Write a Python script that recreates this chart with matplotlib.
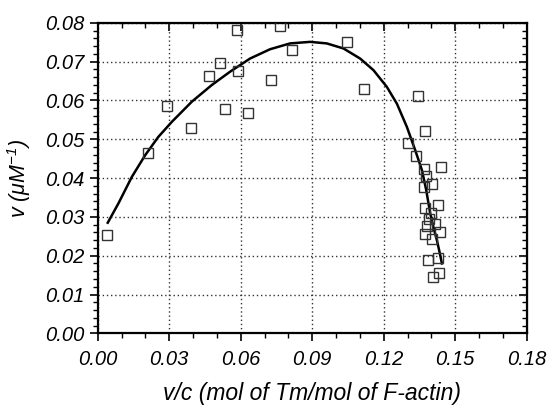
import numpy as np
import matplotlib
matplotlib.use('Agg')
import matplotlib.pyplot as plt
from matplotlib.ticker import MultipleLocator

plt.rcParams['font.family'] = ['Liberation Sans', 'DejaVu Sans']
plt.rcParams['mathtext.fontset'] = 'custom'
plt.rcParams['mathtext.rm'] = 'Liberation Sans:italic'
plt.rcParams['mathtext.it'] = 'Liberation Sans:italic'

# measured binding data (squares)
vc_data = [0.0040, 0.0212, 0.0290, 0.0393, 0.0466, 0.0512, 0.0532, 0.0584, 0.0589,
           0.0632, 0.0726, 0.0765, 0.0814, 0.1045, 0.1118, 0.1342, 0.1375, 0.1300,
           0.1336, 0.1440, 0.1367, 0.1378, 0.1402, 0.1367, 0.1429, 0.1375, 0.1398,
           0.1392, 0.1416, 0.1381, 0.1437, 0.1374, 0.1402, 0.1426, 0.1385, 0.1433,
           0.1406]
v_data = [0.0253, 0.0465, 0.0587, 0.0528, 0.0664, 0.0696, 0.0579, 0.0782, 0.0676,
          0.0567, 0.0654, 0.0792, 0.0730, 0.0750, 0.0629, 0.0611, 0.0522, 0.0490,
          0.0456, 0.0428, 0.0423, 0.0405, 0.0385, 0.0376, 0.0330, 0.0322, 0.0309,
          0.0294, 0.0281, 0.0276, 0.0262, 0.0256, 0.0242, 0.0195, 0.0188, 0.0156,
          0.0146]

# fitted curve
vc_fit = [0.0042, 0.0087, 0.0143, 0.0199, 0.0254, 0.0311, 0.0395, 0.0479, 0.0555,
          0.0639, 0.0723, 0.0807, 0.0891, 0.0961, 0.1031, 0.1101, 0.1157, 0.1213,
          0.1255, 0.1297, 0.1332, 0.1360, 0.1378, 0.1395, 0.1410, 0.1423, 0.1434,
          0.1444]
v_fit = [0.0285, 0.0335, 0.0403, 0.0459, 0.0506, 0.0545, 0.0597, 0.0640, 0.0674,
         0.0708, 0.0732, 0.0747, 0.0751, 0.0747, 0.0734, 0.0708, 0.0678, 0.0635,
         0.0592, 0.0532, 0.0472, 0.0421, 0.0370, 0.0309, 0.0270, 0.0240, 0.0210,
         0.0180]

fig = plt.figure(figsize=(5.5, 4.08), dpi=100)
ax = fig.add_axes([0.1777, 0.183, 0.78, 0.761])

ax.plot(vc_fit, v_fit, color='black', lw=1.8, zorder=3)
ax.plot(vc_data, v_data, 's', mfc='none', mec='#333333', ms=7.5, mew=1.0, zorder=4)

ax.set_xlim(0, 0.18)
ax.set_ylim(0, 0.08)
ax.xaxis.set_major_locator(MultipleLocator(0.03))
ax.xaxis.set_minor_locator(MultipleLocator(0.01))
ax.yaxis.set_major_locator(MultipleLocator(0.01))
ax.yaxis.set_minor_locator(MultipleLocator(0.002))
ax.xaxis.set_major_formatter(plt.FuncFormatter(lambda v, p: f'{v:.2f}'))
ax.yaxis.set_major_formatter(plt.FuncFormatter(lambda v, p: f'{v:.2f}'))

ax.grid(True, which='major', color='#333333', linestyle=(0, (1, 2)), lw=1.0)

for s in ax.spines.values():
    s.set_linewidth(1.6)

ax.tick_params(which='both', direction='out', top=False, right=False)
ax.tick_params(which='major', length=6, width=1.2, labelsize=14.5)
ax.tick_params(axis='x', which='major', pad=6)
ax.tick_params(which='minor', length=3.5, width=1.0)
for lab in ax.get_xticklabels() + ax.get_yticklabels():
    lab.set_style('italic')

# inward ticks on the top and right edges
top = ax.secondary_xaxis('top')
top.xaxis.set_major_locator(MultipleLocator(0.03))
top.xaxis.set_minor_locator(MultipleLocator(0.01))
top.tick_params(which='both', direction='in', labeltop=False)
top.tick_params(which='major', length=6, width=1.2)
top.tick_params(which='minor', length=3.5, width=1.0)
right = ax.secondary_yaxis('right')
right.yaxis.set_major_locator(MultipleLocator(0.01))
right.yaxis.set_minor_locator(MultipleLocator(0.002))
right.tick_params(which='both', direction='in', labelright=False)
right.tick_params(which='major', length=6, width=1.2)
right.tick_params(which='minor', length=3.5, width=1.0)

ax.set_xlabel('v/c (mol of Tm/mol of F-actin)', fontsize=16.5, style='italic',
              labelpad=9)
ax.set_ylabel('v (μM$^{-1}$)', fontsize=15.5, style='italic', labelpad=9)

fig.savefig('out.png', dpi=100)
